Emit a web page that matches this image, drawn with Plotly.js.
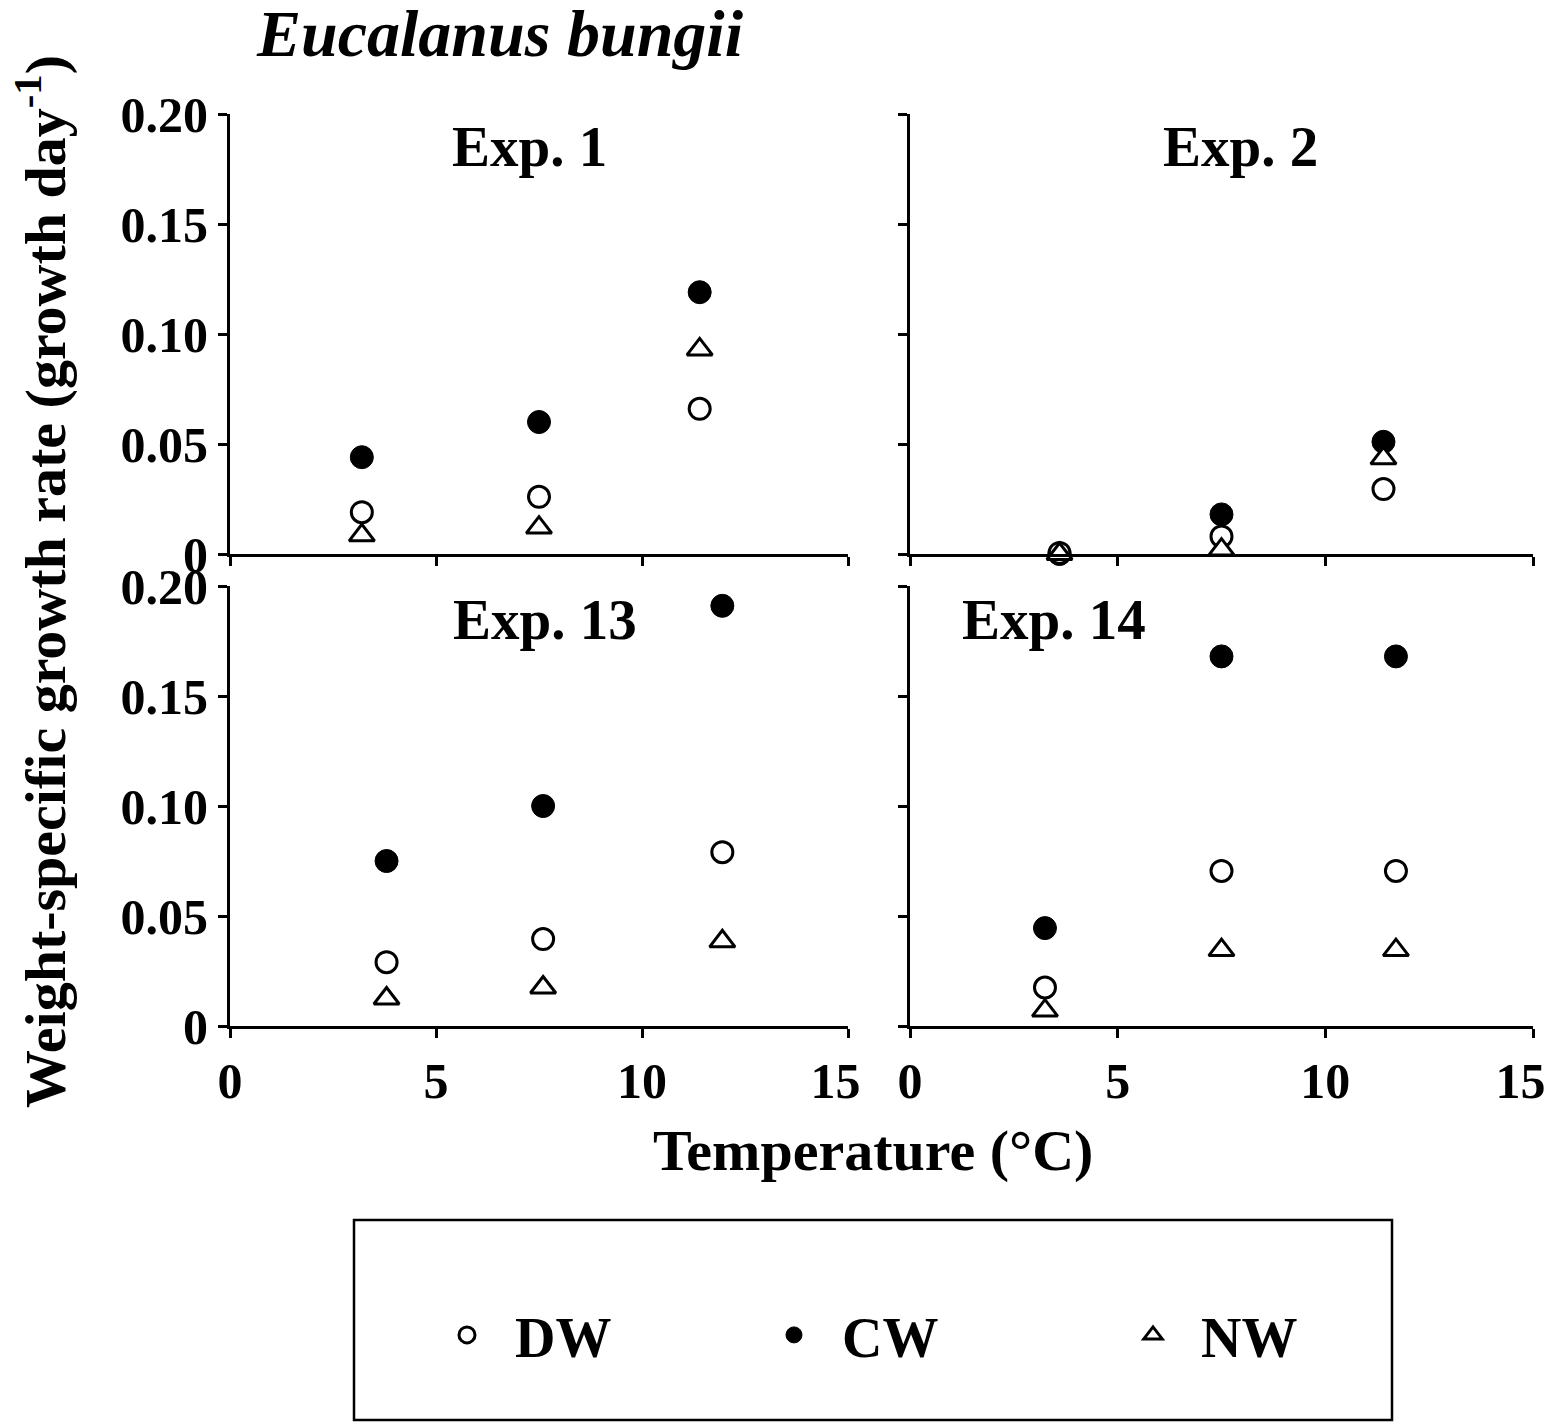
<!DOCTYPE html>
<html>
<head>
<meta charset="utf-8">
<script src="https://cdn.plot.ly/plotly-3.0.1.min.js"></script>
<style>
  body { margin: 0; background: #fff; }
  #chart { width: 1549px; height: 1428px; }
</style>
</head>
<body>
<div id="chart"></div>
<script>
// values (temperature in °C, growth rate in day^-1)
const exp1Temp = [3.2, 7.5, 11.4];
const exp1DW = [0.019, 0.026, 0.066];
const exp1CW = [0.044, 0.060, 0.119];
const exp1NW = [0.0085, 0.012, 0.093];

const exp2Temp = [3.6, 7.5, 11.4];
const exp2DW = [0.0005, 0.008, 0.0295];
const exp2CW = [0.0, 0.018, 0.051];
const exp2NW = [0.0, 0.002, 0.0435];

const exp13Temp = [3.8, 7.6, 11.95];
const exp13DW = [0.029, 0.0395, 0.079];
const exp13CW = [0.075, 0.100, 0.191];
const exp13NW = [0.0125, 0.0175, 0.0385];

const exp14Temp = [3.25, 7.5, 11.7];
const exp14DW = [0.0175, 0.0705, 0.0705];
const exp14CW = [0.0445, 0.168, 0.168];
const exp14NW = [0.007, 0.0345, 0.0345];

const panelNames = ['Exp. 1', 'Exp. 2', 'Exp. 13', 'Exp. 14'];
const xTicks = [0, 5, 10, 15];
const xTickText = ['0', '5', '10', '15&nbsp;&nbsp;'];
const yTicks = [0, 0.05, 0.10, 0.15, 0.20];
const yTickText = ['0', '0.05', '0.10', '0.15', '0.20'];

const FONT = 'Liberation Serif, Times New Roman, serif';

const panels = [
  { t: exp1Temp, dw: exp1DW, cw: exp1CW, nw: exp1NW, xa: 'x', ya: 'y' },
  { t: exp2Temp, dw: exp2DW, cw: exp2CW, nw: exp2NW, xa: 'x2', ya: 'y2' },
  { t: exp13Temp, dw: exp13DW, cw: exp13CW, nw: exp13NW, xa: 'x3', ya: 'y3' },
  { t: exp14Temp, dw: exp14DW, cw: exp14CW, nw: exp14NW, xa: 'x4', ya: 'y4' }
];

const pad = '&nbsp;&nbsp;';
const data = [];
panels.forEach((p, i) => {
  const first = i === 0;
  // CW first so the open symbols sit on top of it where they overlap
  data.push({
    type: 'scatter', mode: 'markers', x: p.t, y: p.cw, xaxis: p.xa, yaxis: p.ya,
    name: pad + 'CW', legend: 'legend2', showlegend: first, cliponaxis: false,
    marker: { symbol: 'circle', size: 23, color: '#000', line: { color: '#000', width: 1 } }
  });
  data.push({
    type: 'scatter', mode: 'markers', x: p.t, y: p.dw, xaxis: p.xa, yaxis: p.ya,
    name: pad + 'DW', legend: 'legend', showlegend: first, cliponaxis: false,
    marker: { symbol: 'circle', size: 21, color: '#fff', line: { color: '#000', width: 3 } }
  });
  data.push({
    type: 'scatter', mode: 'markers', x: p.t, y: p.nw, xaxis: p.xa, yaxis: p.ya,
    name: pad + 'NW', legend: 'legend3', showlegend: first, cliponaxis: false,
    marker: { symbol: 'triangle-up', size: 22, color: '#fff', line: { color: '#000', width: 3 } }
  });
});

function xAxis(domain, anchor, labels) {
  return {
    domain: domain, anchor: anchor, range: [0, 15], tickvals: xTicks, ticktext: xTickText,
    showticklabels: labels, ticklabeloverflow: 'allow', showline: true, linecolor: '#000', linewidth: 3,
    ticks: 'outside', ticklen: 9, tickwidth: 3, tickcolor: '#000',
    showgrid: false, zeroline: false, fixedrange: true,
    tickfont: { family: FONT, size: 50, color: '#000', weight: 'bold' }
  };
}
function yAxis(domain, anchor, labels) {
  return {
    domain: domain, anchor: anchor, range: [0, 0.2], tickvals: yTicks, ticktext: yTickText,
    showticklabels: labels, showline: true, linecolor: '#000', linewidth: 3,
    ticks: 'outside', ticklen: 9, tickwidth: 3, tickcolor: '#000',
    showgrid: false, zeroline: false, fixedrange: true,
    tickfont: { family: FONT, size: 50, color: '#000', weight: 'bold' }
  };
}

const W = 1549, H = 1428;
const colL = [230 / W, 848 / W];
const colR = [910 / W, 1533 / W];
const rowT = [1 - 554 / H, 1 - 114 / H];
const rowB = [1 - 1026 / H, 1 - 586 / H];

const labelPos = [[0.485, 'x domain', 'y domain'], [0.53, 'x2 domain', 'y2 domain'],
                  [0.51, 'x3 domain', 'y3 domain'], [0.231, 'x4 domain', 'y4 domain']];

const annotations = panelNames.map((name, i) => ({
  text: '<b>' + name + '</b>', x: labelPos[i][0], y: 0.925,
  xref: labelPos[i][1], yref: labelPos[i][2], xanchor: 'center', yanchor: 'middle',
  showarrow: false, font: { family: FONT, size: 57, color: '#000' }
}));

annotations.push({
  text: '<b><i>Eucalanus bungii</i></b>', x: 500 / W, y: 1 - 33 / H,
  xref: 'paper', yref: 'paper', xanchor: 'center', yanchor: 'middle',
  showarrow: false, font: { family: FONT, size: 66, color: '#000' }
});
annotations.push({
  text: '<b>Weight-specific growth rate (growth day<sup>-1</sup>)</b>', x: 41 / W, y: 1 - 582 / H,
  xref: 'paper', yref: 'paper', xanchor: 'center', yanchor: 'middle', textangle: -90,
  showarrow: false, font: { family: FONT, size: 58, color: '#000' }
});
annotations.push({
  text: '<b>Temperature (°C)</b>', x: 873 / W, y: 1 - 1150 / H,
  xref: 'paper', yref: 'paper', xanchor: 'center', yanchor: 'middle',
  showarrow: false, font: { family: FONT, size: 58, color: '#000' }
});

function legendAt(px) {
  return {
    x: px / W, y: 1 - 1335 / H, xanchor: 'left', yanchor: 'middle',
    bgcolor: 'rgba(0,0,0,0)', borderwidth: 0,
    font: { family: FONT, size: 56, color: '#000', weight: 'bold' }
  };
}

const layout = {
  width: W, height: H,
  margin: { l: 0, r: 0, t: 0, b: 0 },
  paper_bgcolor: '#fff', plot_bgcolor: 'rgba(0,0,0,0)',
  font: { family: FONT, color: '#000' },
  xaxis: xAxis(colL, 'y', false),
  yaxis: yAxis(rowT, 'x', true),
  xaxis2: xAxis(colR, 'y2', false),
  yaxis2: yAxis(rowT, 'x2', false),
  xaxis3: xAxis(colL, 'y3', true),
  yaxis3: yAxis(rowB, 'x3', true),
  xaxis4: xAxis(colR, 'y4', true),
  yaxis4: yAxis(rowB, 'x4', false),
  legend: legendAt(447),
  legend2: legendAt(774),
  legend3: legendAt(1133),
  annotations: annotations,
  shapes: [{
    type: 'rect', xref: 'paper', yref: 'paper',
    x0: 354 / W, x1: 1392 / W, y0: 1 - 1420 / H, y1: 1 - 1220 / H,
    line: { color: '#000', width: 2.5 }, fillcolor: 'rgba(0,0,0,0)'
  }],
  showlegend: true
};

Plotly.newPlot('chart', data, layout, { displayModeBar: false, staticPlot: true });
</script>
</body>
</html>
